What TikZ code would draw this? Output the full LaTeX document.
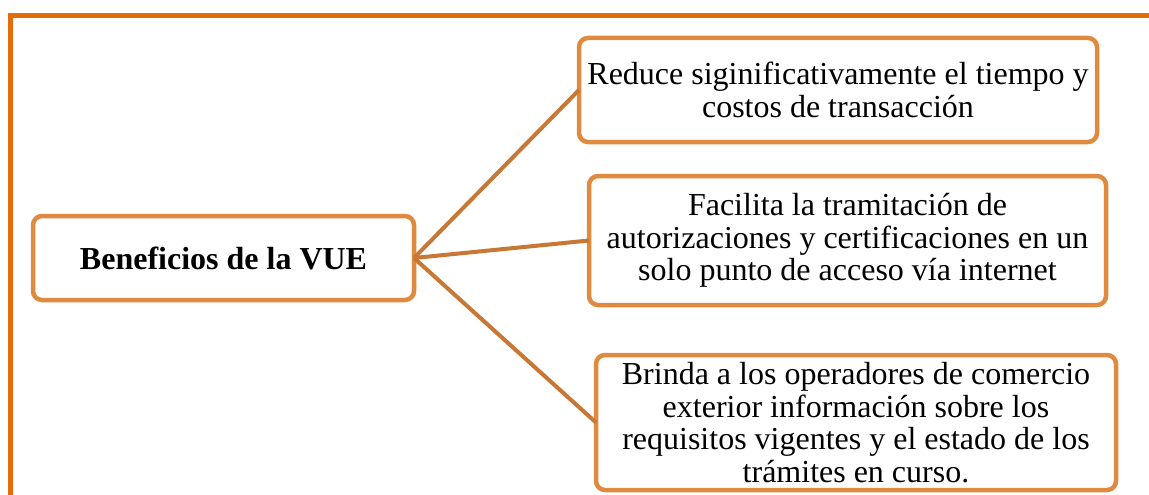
\documentclass[tikz,border=0pt]{standalone}
\usepackage{fontspec}
\setmainfont{Liberation Serif}
\definecolor{frameorange}{HTML}{E46C0A}
\definecolor{boxorange}{HTML}{E08A40}
\definecolor{linkorange}{HTML}{C87735}
\tikzset{
  benefit/.style={draw=boxorange, line width=4.5pt, rounded corners=9pt, fill=white,
    align=center, inner sep=2pt, outer sep=0pt,
    font=\fontsize{32}{32.5}\selectfont},
  link/.style={draw=linkorange, line width=4pt}
}
\begin{document}
\begin{tikzpicture}[x=1pt,y=-1pt]
\useasboundingbox (0,0) rectangle (1149,495);
\clip (0,0) rectangle (1149,495);
\fill[white] (0,0) rectangle (1149,495);
\draw[frameorange, line width=5pt] (10,16) rectangle (1250,600);
\node[benefit, minimum width=381pt, minimum height=84pt] (main) at (223.5,258)
  {\bfseries Beneficios de la VUE};
\node[benefit, minimum width=518pt, minimum height=104pt] (b1) at (838,90)
  {Reduce siginificativamente el tiempo y\\costos de transacción};
\node[benefit, minimum width=517pt, minimum height=129pt] (b2) at (847.5,240.5)
  {Facilita la tramitación de\\autorizaciones y certificaciones en un\\solo punto de acceso vía internet};
\node[benefit, minimum width=520pt, minimum height=135pt] (b3) at (856,422.5)
  {Brinda a los operadores de comercio\\exterior información sobre los\\requisitos vigentes y el estado de los\\trámites en curso.};
\draw[link] (main.east) -- (b1.west);
\draw[link] (main.east) -- (b2.west);
\draw[link] (main.east) -- (b3.west);
\end{tikzpicture}
\end{document}
